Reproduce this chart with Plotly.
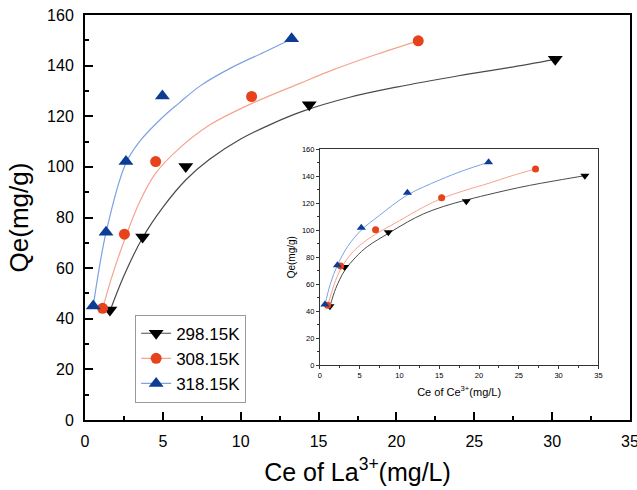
import plotly.graph_objects as go

# ---------------- main plot data (La3+) ----------------
la_c_298 = [1.6, 3.7, 6.47, 14.4, 30.2]
la_q_298 = [43.5, 72.3, 100.1, 124.5, 142.5]
la_c_308 = [1.13, 2.53, 4.54, 10.7, 21.4]
la_q_308 = [44.1, 73.4, 102.1, 127.8, 149.8]
la_c_318 = [0.53, 1.35, 2.63, 4.97, 13.27]
la_q_318 = [45.0, 74.2, 102.1, 128.0, 150.6]

# fitted curves
la_fit_c_298 = [1.6, 2.5, 3.7, 5, 6.5, 8, 10, 12, 14, 17, 20, 24, 27, 30.2]
la_fit_q_298 = [43, 57, 72, 84, 95, 103, 111, 117, 122, 127.5, 131.5, 136, 139, 142.5]
la_fit_c_308 = [1.13, 1.8, 2.53, 3.5, 4.54, 6, 8, 10.7, 13.8, 16, 18.5, 21.4]
la_fit_q_308 = [44, 58, 71, 86, 97.5, 107, 116.5, 125, 133, 138.5, 144, 149.8]
la_fit_c_318 = [0.53, 1.35, 2.63, 3.5, 4.97, 6, 7.4, 9.5, 11.5, 13.27]
la_fit_q_318 = [45, 74, 101.5, 110, 119.5, 125, 132, 139.5, 145.3, 150.5]

# ---------------- inset data (Ce3+) ----------------
ce_c_298 = [1.26, 3.1, 8.6, 18.4, 33.3]
ce_q_298 = [43.7, 72.7, 98.5, 121.4, 140.3]
ce_c_308 = [0.97, 2.6, 7.0, 15.3, 27.1]
ce_q_308 = [44.5, 73.5, 100.3, 123.9, 145.3]
ce_c_318 = [0.63, 2.2, 5.2, 11.0, 21.2]
ce_q_318 = [45.0, 74.0, 101.8, 127.6, 150.2]

ce_fit_c_298 = [1.26, 2, 3.1, 4.5, 6, 8.6, 11, 13, 15.5, 18.4, 22, 25, 27.7, 30.5, 33.3]
ce_fit_q_298 = [43.4, 57, 70, 80, 88, 97.6, 106, 112, 117.5, 122.3, 127.5, 131.5, 134.6, 137.5, 140.3]
ce_fit_c_308 = [0.97, 1.8, 2.6, 4, 5.5, 7, 10, 13, 15.3, 18, 21.4, 24, 27.1]
ce_fit_q_308 = [44, 60, 71, 83, 91, 97, 107, 117, 123.5, 129, 135, 140, 145.3]
ce_fit_c_318 = [0.63, 1.3, 2.2, 3.5, 5.2, 7.5, 11, 15, 18, 21.2]
ce_fit_q_318 = [44.5, 60, 74, 88, 100, 111, 126, 137, 144, 150.2]

series_names = ["298.15K", "308.15K", "318.15K"]

x_ticks = [0, 5, 10, 15, 20, 25, 30, 35]
y_ticks = [0, 20, 40, 60, 80, 100, 120, 140, 160]

line_colors = ["#4a4a4a", "#f6a38f", "#7ba2e2"]
marker_colors = ["#000000", "#e8421a", "#0d3c94"]
symbols = ["triangle-down", "circle", "triangle-up"]
main_sizes = [13, 11, 13]
inset_sizes = [8, 7, 8]

fig = go.Figure()

main_pts = [(la_c_298, la_q_298), (la_c_308, la_q_308), (la_c_318, la_q_318)]
main_fit = [(la_fit_c_298, la_fit_q_298), (la_fit_c_308, la_fit_q_308), (la_fit_c_318, la_fit_q_318)]
ins_pts = [(ce_c_298, ce_q_298), (ce_c_308, ce_q_308), (ce_c_318, ce_q_318)]
ins_fit = [(ce_fit_c_298, ce_fit_q_298), (ce_fit_c_308, ce_fit_q_308), (ce_fit_c_318, ce_fit_q_318)]

for i in range(3):
    fig.add_trace(go.Scatter(x=main_fit[i][0], y=main_fit[i][1], mode="lines",
                             line=dict(color=line_colors[i], width=1.2, shape="spline", smoothing=1.0),
                             showlegend=False, hoverinfo="skip", xaxis="x", yaxis="y"))
    fig.add_trace(go.Scatter(x=main_pts[i][0], y=main_pts[i][1], mode="markers",
                             marker=dict(symbol=symbols[i], size=main_sizes[i], color=marker_colors[i]),
                             showlegend=False, xaxis="x", yaxis="y"))

for i in range(3):
    fig.add_trace(go.Scatter(x=ins_fit[i][0], y=ins_fit[i][1], mode="lines",
                             line=dict(color=line_colors[i], width=1, shape="spline", smoothing=1.0),
                             showlegend=False, hoverinfo="skip", xaxis="x2", yaxis="y2"))
    fig.add_trace(go.Scatter(x=ins_pts[i][0], y=ins_pts[i][1], mode="markers",
                             marker=dict(symbol=symbols[i], size=inset_sizes[i], color=marker_colors[i]),
                             showlegend=False, xaxis="x2", yaxis="y2"))

# legend entries
for i in range(3):
    fig.add_trace(go.Scatter(x=[None], y=[None], mode="lines+markers", name=series_names[i],
                             line=dict(color=line_colors[i], width=1.2),
                             marker=dict(symbol=symbols[i], size=main_sizes[i], color=marker_colors[i]),
                             xaxis="x", yaxis="y"))

font_family = "Liberation Sans, Arial, sans-serif"

fig.update_layout(
    width=637, height=490,
    margin=dict(l=85, r=7, t=15, b=70),
    paper_bgcolor="white", plot_bgcolor="white",
    font=dict(family=font_family, color="#000000"),
    showlegend=True,
    legend=dict(x=0.092, y=0.26, xanchor="left", yanchor="top",
                bordercolor="#9a9a9a", borderwidth=1, bgcolor="white",
                font=dict(size=17, family=font_family), tracegroupgap=0,
                itemsizing="trace"),
    xaxis=dict(domain=[0, 1], range=[0, 35], tickvals=x_ticks, ticktext=[str(v) for v in x_ticks],
               ticks="inside", ticklen=8, tickwidth=1.5, tickcolor="#000",
               minor=dict(ticks="inside", ticklen=4, tickwidth=1.5, tickcolor="#000", dtick=2.5, showgrid=False),
               showline=True, linewidth=2, linecolor="#000", mirror=True,
               showgrid=False, zeroline=False, automargin=False,
               tickfont=dict(size=16), ticklabelstandoff=6, ticklabeloverflow="allow",
               title=dict(text="Ce of La<sup>3+</sup>(mg/L)", font=dict(size=25), standoff=14),
               anchor="y"),
    yaxis=dict(domain=[0, 1], range=[0, 160], tickvals=y_ticks, ticktext=[str(v) for v in y_ticks],
               ticks="inside", ticklen=8, tickwidth=1.5, tickcolor="#000",
               minor=dict(ticks="inside", ticklen=4, tickwidth=1.5, tickcolor="#000", dtick=10, showgrid=False),
               showline=True, linewidth=2, linecolor="#000", mirror=True,
               showgrid=False, zeroline=False, automargin=False,
               tickfont=dict(size=16), ticklabelstandoff=6, ticklabeloverflow="allow",
               title=dict(text="Qe(mg/g)", font=dict(size=26), standoff=11),
               anchor="x"),
    xaxis2=dict(domain=[0.431, 0.942], range=[0, 35], tickvals=x_ticks, ticktext=[str(v) for v in x_ticks],
                ticks="outside", ticklen=3, tickwidth=1, tickcolor="#333",
                minor=dict(ticks="outside", ticklen=2, tickwidth=1, tickcolor="#333", dtick=2.5, showgrid=False),
                showline=True, linewidth=1, linecolor="#333", mirror=True,
                showgrid=False, zeroline=False, automargin=False,
                tickfont=dict(size=7.5),
                title=dict(text="Ce of Ce<sup>3+</sup>(mg/L)", font=dict(size=11), standoff=8),
                anchor="y2"),
    yaxis2=dict(domain=[0.135, 0.669], range=[0, 160], tickvals=y_ticks, ticktext=[str(v) for v in y_ticks],
                ticks="outside", ticklen=3, tickwidth=1, tickcolor="#333",
                minor=dict(ticks="outside", ticklen=2, tickwidth=1, tickcolor="#333", dtick=10, showgrid=False),
                showline=True, linewidth=1, linecolor="#333", mirror=True,
                showgrid=False, zeroline=False, automargin=False,
                tickfont=dict(size=7.5),
                title=dict(text="Qe(mg/g)", font=dict(size=10), standoff=4),
                anchor="x2"),
)

# remove the default 8px page margin so the figure sits at the window origin
fig.write_html("out.html", config={"displayModeBar": False},
               post_script="document.body.style.margin='0px';")
